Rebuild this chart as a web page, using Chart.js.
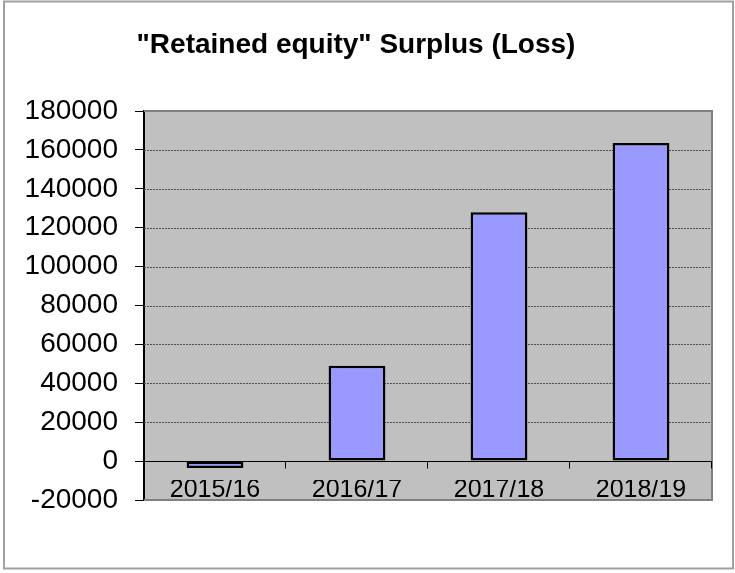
<!DOCTYPE html>
<html>
<head>
<meta charset="utf-8">
<script src="https://cdn.jsdelivr.net/npm/chart.js@4"></script>
<style>
    body { margin: 0; background: #fff; }
</style>
</head>
<body>
<canvas id="equity" width="735" height="573"></canvas>
<script>
// Dados do gráfico
const years = ["2015/16", "2016/17", "2017/18", "2018/19"];
const surplus = [-3500, 49000, 128000, 163500];
const yMin = -20000;
const yMax = 180000;
const yStep = 20000;

// Fundo cinza, linhas pontilhadas e moldura
const plotDecor = {
    id: "plotDecor",
    beforeDraw(chart) {
        const { ctx, chartArea: a } = chart;
        ctx.save();
        ctx.fillStyle = "#c0c0c0";
        ctx.fillRect(a.left, a.top, a.right - a.left, a.bottom - a.top);
        ctx.restore();
    },
    beforeDatasetsDraw(chart) {
        const { ctx, chartArea: a, scales } = chart;
        const y = scales.y;
        ctx.save();
        // linhas de grade pontilhadas
        ctx.strokeStyle = "#505050";
        ctx.lineWidth = 1;
        ctx.setLineDash([2, 1]);
        y.ticks.forEach((t) => {
            if (t.value === 0 || t.value === yMin || t.value === yMax) return;
            const py = Math.round(y.getPixelForValue(t.value)) + 0.5;
            ctx.beginPath();
            ctx.moveTo(a.left, py);
            ctx.lineTo(a.right, py);
            ctx.stroke();
        });
        ctx.setLineDash([]);
        // moldura cinza (topo, direita, base)
        ctx.strokeStyle = "#808080";
        ctx.lineWidth = 2;
        ctx.beginPath();
        ctx.moveTo(a.left, a.top);
        ctx.lineTo(a.right, a.top);
        ctx.lineTo(a.right, a.bottom);
        ctx.lineTo(a.left, a.bottom);
        ctx.stroke();
        // eixo do zero com marcas
        const zy = Math.round(y.getPixelForValue(0)) + 0.5;
        ctx.strokeStyle = "#000";
        ctx.lineWidth = 1;
        ctx.beginPath();
        ctx.moveTo(a.left, zy);
        ctx.lineTo(a.right, zy);
        const w = (a.right - a.left) / years.length;
        for (let i = 1; i <= years.length; i++) {
            const px = Math.round(a.left + i * w) - 0.5;
            ctx.moveTo(px, zy);
            ctx.lineTo(px, zy + 7);
        }
        ctx.stroke();
        ctx.restore();
    },
    afterDraw(chart) {
        const { ctx } = chart;
        ctx.save();
        ctx.strokeStyle = "#a0a0a0";
        ctx.lineWidth = 2;
        ctx.strokeRect(4, 1.5, 729, 567);
        ctx.restore();
    },
};

document.addEventListener("DOMContentLoaded", () => {
    const ctx = document.getElementById("equity").getContext("2d");

    const myChart = new Chart(ctx, {
        type: "bar",
        data: {
            labels: years,
            datasets: [
                {
                    data: surplus,
                    backgroundColor: "#9999ff",
                    borderColor: "#000",
                    borderWidth: 2.5,
                    borderSkipped: false,
                    barPercentage: 0.4,
                    categoryPercentage: 1,
                },
            ],
        },
        options: {
            responsive: false,
            animation: false,
            layout: {
                padding: { left: 0, right: 23, top: 0, bottom: 73 },
            },
            plugins: {
                legend: { display: false },
                tooltip: { enabled: false },
                title: {
                    display: true,
                    text: '"Retained equity" Surplus (Loss)',
                    color: "#000",
                    font: { family: "Liberation Sans, Arial", size: 28, weight: "bold", lineHeight: 1.2 },
                    padding: { top: 28, bottom: 49.4 },
                },
            },
            scales: {
                x: {
                    grid: { display: false, drawTicks: false },
                    border: { display: false },
                    ticks: {
                        color: "#000",
                        font: { family: "Liberation Sans, Arial", size: 25 },
                        padding: -25,
                        maxRotation: 0,
                        autoSkip: false,
                    },
                },
                y: {
                    min: yMin,
                    max: yMax,
                    grid: {
                        drawOnChartArea: false,
                        drawTicks: true,
                        tickLength: 9,
                        tickColor: "#000",
                    },
                    border: { display: true, color: "#000", width: 2 },
                    ticks: {
                        stepSize: yStep,
                        color: "#000",
                        padding: 17,
                        font: { family: "Liberation Sans, Arial", size: 28 },
                        callback: (v) => String(v),
                    },
                    afterFit(scale) {
                        scale.width = 144;
                    },
                },
            },
        },
        plugins: [plotDecor],
    });
});
</script>
</body>
</html>
